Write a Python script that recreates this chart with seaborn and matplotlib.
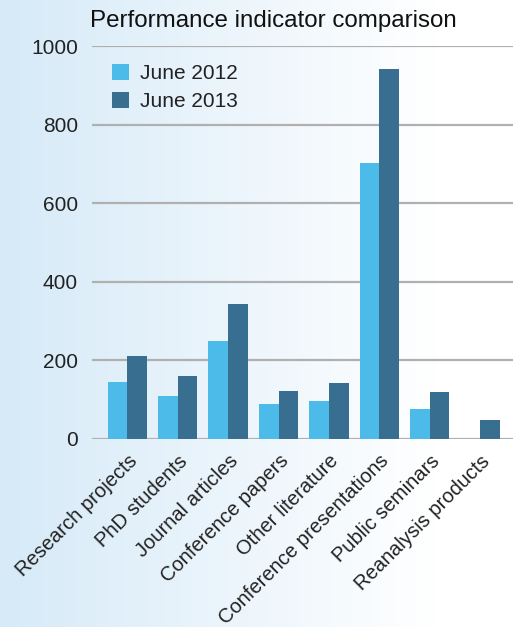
import numpy as np
import pandas as pd
import matplotlib
matplotlib.use("Agg")
import matplotlib.pyplot as plt
import seaborn as sns

categories = ["Research projects", "PhD students", "Journal articles", "Conference papers",
              "Other literature", "Conference presentations", "Public seminars", "Reanalysis products"]
june_2012 = [146, 110, 250, 90, 97, 703, 77, 0]
june_2013 = [212, 161, 344, 123, 143, 942, 120, 49]
series_names = ["June 2012", "June 2013"]
yticks = [0, 200, 400, 600, 800, 1000]

df = pd.DataFrame({
    "category": categories * 2,
    "value": june_2012 + june_2013,
    "series": [series_names[0]] * len(categories) + [series_names[1]] * len(categories),
})

sns.set_theme(style="white")
plt.rcParams["font.family"] = ["Liberation Sans", "DejaVu Sans"]

fig = plt.figure(figsize=(5.13, 6.27), dpi=100)

# background gradient
bg = fig.add_axes([0, 0, 1, 1], zorder=-10)
grad = np.linspace(0, 1, 256)
left = np.array([214, 234, 248]) / 255.0
right = np.array([255, 255, 255]) / 255.0
t = np.clip(grad / 0.85, 0, 1)[None, :, None]
img = left[None, None, :] * (1 - t) + right[None, None, :] * t
bg.imshow(np.repeat(img, 2, axis=0), aspect="auto", extent=[0, 1, 0, 1])
bg.axis("off")

ax = fig.add_axes([92 / 513, 1 - 439 / 627, 1 - 92 / 513, (439 - 46) / 627])
ax.patch.set_alpha(0)

sns.barplot(data=df, x="category", y="value", hue="series", order=categories,
            hue_order=series_names, palette=["#4DBBEA", "#386E8F"], width=0.78,
            saturation=1, ax=ax, zorder=3, edgecolor="none", linewidth=0)

ax.set_ylim(0, 1000)
ax.set_xlim(-0.7, 7.65)
ax.set_yticks(yticks)
ax.set_yticklabels([str(v) for v in yticks], fontsize=15, color="#222222")
ax.yaxis.grid(True, color="#B0B0B0", linewidth=1.6, zorder=0)
ax.set_axisbelow(True)
ax.tick_params(axis="both", length=0)
ax.tick_params(axis="y", pad=10)
ax.set_xlabel("")
ax.set_ylabel("")
for s in ax.spines.values():
    s.set_visible(False)
ax.set_xticks(range(len(categories)))
ax.set_xticklabels(categories, rotation=45, ha="right", rotation_mode="anchor",
                   fontsize=14.5, color="#222222")
ax.tick_params(axis="x", pad=9)

leg = ax.legend(loc="upper left", bbox_to_anchor=(0.048, 0.955), frameon=False,
                fontsize=15, handlelength=0.8, handleheight=0.8, handletextpad=0.55,
                labelspacing=0.42, borderpad=0, borderaxespad=0, labelcolor="#222222")
for h in leg.legend_handles:
    h.set_edgecolor("none")

fig.text(90 / 513, 1 - 21 / 627, "Performance indicator comparison", fontsize=17.4,
         color="#111111", va="center", ha="left")

fig.savefig("out.png", dpi=100)
